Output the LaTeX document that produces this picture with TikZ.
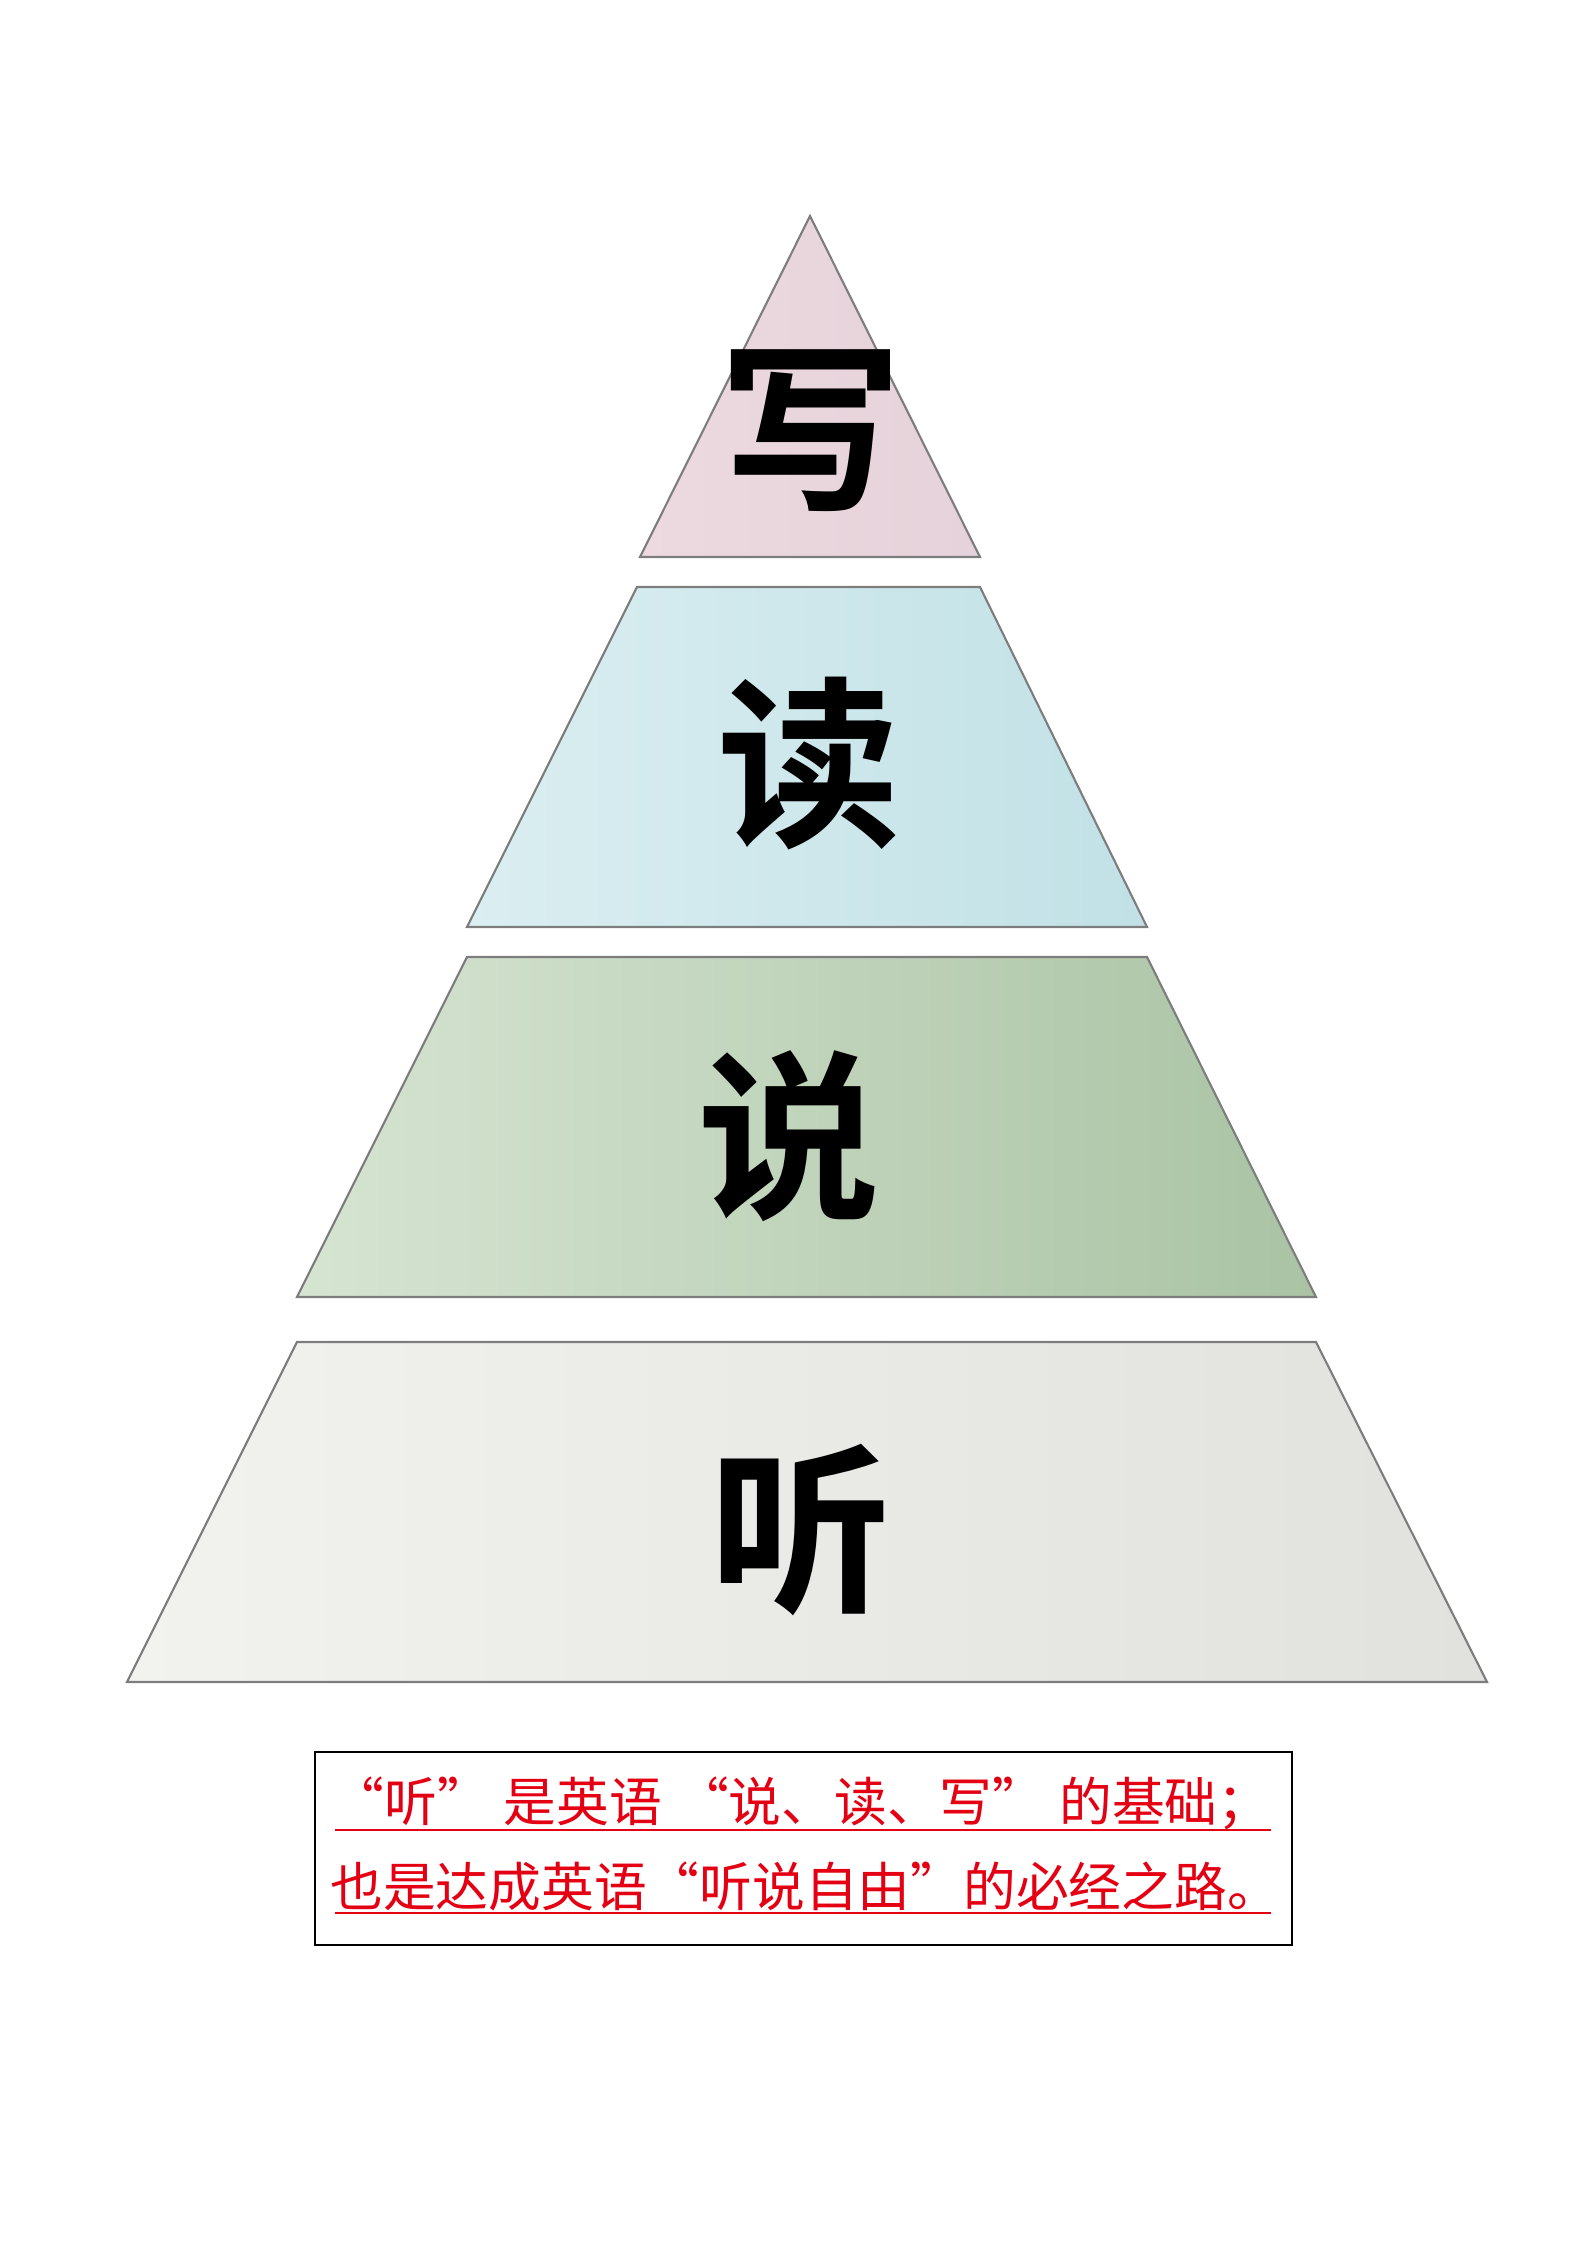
\documentclass[tikz,border=0pt]{standalone}
\usepackage{fontspec}
\newfontfamily\cjk{Noto Sans CJK SC}[BoldFont={* Bold}]
\usetikzlibrary{positioning}
\definecolor{edgegray}{RGB}{125,125,125}
\definecolor{notered}{RGB}{228,0,18}
\definecolor{pinkL}{RGB}{236,218,224}
\definecolor{pinkR}{RGB}{230,210,218}
\definecolor{blueL}{RGB}{219,238,241}
\definecolor{blueR}{RGB}{193,225,230}
\definecolor{greenL}{RGB}{214,228,210}
\definecolor{greenR}{RGB}{170,195,164}
\definecolor{grayL}{RGB}{242,242,239}
\definecolor{grayR}{RGB}{225,225,221}
\tikzset{
  tier/.style={draw=edgegray, line width=0.6pt},
  bigchar/.style={font=\cjk\bfseries\fontsize{52}{52}\selectfont, inner sep=0pt},
  note/.style={text=notered, font=\cjk\fontsize{15}{15}\selectfont, inner sep=0pt}
}

\begin{document}
\begin{tikzpicture}[x=0.01cm,y=-0.01cm]
\useasboundingbox (0,0) rectangle (1587,2245);
\shade [tier,left color=pinkL,right color=pinkR] (810,216) -- (640,557) -- (980,557) -- cycle;
\shade [tier,left color=blueL,right color=blueR] (637,587) -- (980,587) -- (1147,927) -- (467,927) -- cycle;
\shade [tier,left color=greenL,right color=greenR] (467,957) -- (1147,957) -- (1316,1297) -- (297,1297) -- cycle;
\shade [tier,left color=grayL,right color=grayR] (297,1342) -- (1316,1342) -- (1487,1682) -- (127,1682) -- cycle;
\node [bigchar] (xie) at (811,431) {写};
\node [bigchar] (du) at (809,764) {读};
\node [bigchar] (shuo) at (789,1136) {说};
\node [bigchar] (ting) at (801,1530) {听};
\draw [line width=0.6pt] (315,1752) rectangle (1292,1945);
\node [note] (line1) at (801,1803) {“听”\hspace{4pt}是英语\hspace{4pt}“说、读、写”\hspace{4pt}的基础；};
\node [note] (line2) at (805,1886) {也是达成英语“听说自由”的必经之路。};
\draw [notered,line width=0.6pt] (335,1830) -- (1271,1830);
\draw [notered,line width=0.6pt] (335,1913) -- (1271,1913);
\end{tikzpicture}
\end{document}
